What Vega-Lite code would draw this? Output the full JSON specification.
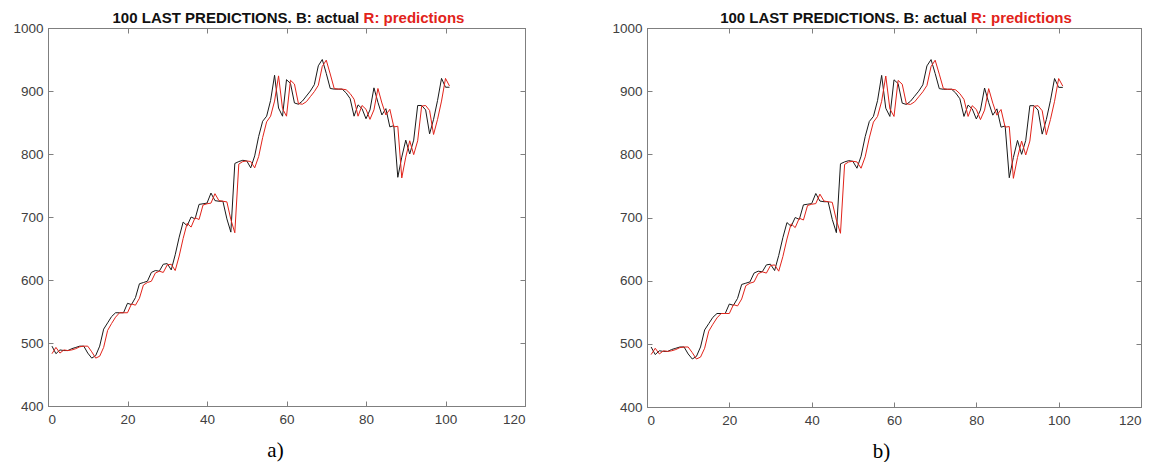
{
  "$schema": "https://vega.github.io/schema/vega-lite/v6.json",
  "padding": {"left": 12, "top": 10, "right": 0, "bottom": 0},
  "background": "white",
  "config": {
    "view": {"stroke": "#7f7f7f", "strokeWidth": 1},
    "axis": {
      "grid": false,
      "domainColor": "#7f7f7f",
      "tickColor": "#7f7f7f",
      "labelColor": "#404040",
      "labelFont": "Liberation Sans",
      "labelFontSize": 13.5,
      "tickSize": -5,
      "format": "d"
    },
    "axisX": {"labelPadding": 11},
    "axisY": {"labelPadding": 10}
  },
  "datasets": {
    "pred": [
      {"x":1,"actual":495,"predicted":483},{"x":2,"actual":483,"predicted":493},{"x":3,"actual":489,"predicted":484},{"x":4,"actual":488,"predicted":489},{"x":5,"actual":488,"predicted":488},
      {"x":6,"actual":491,"predicted":489},{"x":7,"actual":493,"predicted":491},{"x":8,"actual":495,"predicted":494},{"x":9,"actual":495,"predicted":495},{"x":10,"actual":484,"predicted":495},
      {"x":11,"actual":476,"predicted":486},{"x":12,"actual":480,"predicted":476},{"x":13,"actual":495,"predicted":479},{"x":14,"actual":522,"predicted":493},{"x":15,"actual":532,"predicted":520},
      {"x":16,"actual":542,"predicted":531},{"x":17,"actual":548,"predicted":541},{"x":18,"actual":548,"predicted":548},{"x":19,"actual":548,"predicted":548},{"x":20,"actual":563,"predicted":548},
      {"x":21,"actual":561,"predicted":562},{"x":22,"actual":572,"predicted":560},{"x":23,"actual":594,"predicted":571},{"x":24,"actual":596,"predicted":592},{"x":25,"actual":598,"predicted":596},
      {"x":26,"actual":612,"predicted":598},{"x":27,"actual":615,"predicted":611},{"x":28,"actual":614,"predicted":614},{"x":29,"actual":625,"predicted":612},{"x":30,"actual":626,"predicted":624},
      {"x":31,"actual":616,"predicted":625},{"x":32,"actual":640,"predicted":615},{"x":33,"actual":668,"predicted":638},{"x":34,"actual":692,"predicted":666},{"x":35,"actual":686,"predicted":690},
      {"x":36,"actual":700,"predicted":684},{"x":37,"actual":697,"predicted":699},{"x":38,"actual":720,"predicted":696},{"x":39,"actual":721,"predicted":719},{"x":40,"actual":722,"predicted":721},
      {"x":41,"actual":738,"predicted":722},{"x":42,"actual":726,"predicted":737},{"x":43,"actual":725,"predicted":726},{"x":44,"actual":725,"predicted":725},{"x":45,"actual":697,"predicted":724},
      {"x":46,"actual":676,"predicted":696},{"x":47,"actual":785,"predicted":675},{"x":48,"actual":788,"predicted":784},{"x":49,"actual":790,"predicted":788},{"x":50,"actual":789,"predicted":789},
      {"x":51,"actual":778,"predicted":788},{"x":52,"actual":797,"predicted":778},{"x":53,"actual":828,"predicted":796},{"x":54,"actual":852,"predicted":826},{"x":55,"actual":860,"predicted":851},
      {"x":56,"actual":885,"predicted":860},{"x":57,"actual":925,"predicted":884},{"x":58,"actual":873,"predicted":924},{"x":59,"actual":860,"predicted":872},{"x":60,"actual":918,"predicted":860},
      {"x":61,"actual":912,"predicted":917},{"x":62,"actual":881,"predicted":911},{"x":63,"actual":879,"predicted":880},{"x":64,"actual":884,"predicted":879},{"x":65,"actual":892,"predicted":883},
      {"x":66,"actual":900,"predicted":891},{"x":67,"actual":910,"predicted":899},{"x":68,"actual":940,"predicted":909},{"x":69,"actual":950,"predicted":939},{"x":70,"actual":928,"predicted":949},
      {"x":71,"actual":904,"predicted":927},{"x":72,"actual":903,"predicted":904},{"x":73,"actual":903,"predicted":903},{"x":74,"actual":903,"predicted":903},{"x":75,"actual":897,"predicted":902},
      {"x":76,"actual":888,"predicted":896},{"x":77,"actual":860,"predicted":887},{"x":78,"actual":878,"predicted":860},{"x":79,"actual":872,"predicted":877},{"x":80,"actual":856,"predicted":871},
      {"x":81,"actual":870,"predicted":855},{"x":82,"actual":905,"predicted":870},{"x":83,"actual":882,"predicted":904},{"x":84,"actual":862,"predicted":881},{"x":85,"actual":872,"predicted":862},
      {"x":86,"actual":843,"predicted":871},{"x":87,"actual":845,"predicted":843},{"x":88,"actual":763,"predicted":844},{"x":89,"actual":795,"predicted":762},{"x":90,"actual":822,"predicted":795},
      {"x":91,"actual":800,"predicted":821},{"x":92,"actual":822,"predicted":799},{"x":93,"actual":877,"predicted":821},{"x":94,"actual":877,"predicted":876},{"x":95,"actual":870,"predicted":877},
      {"x":96,"actual":832,"predicted":869},{"x":97,"actual":855,"predicted":831},{"x":98,"actual":885,"predicted":855},{"x":99,"actual":920,"predicted":884},{"x":100,"actual":906,"predicted":920},
      {"x":101,"actual":906,"predicted":908}
    ],
    "titles": [
      {"part": "100 LAST PREDICTIONS.  B: actual", "side": "black"},
      {"part": "R: predictions", "side": "red"}
    ]
  },
  "data": {"name": "pred"},
  "spacing": 85,
  "hconcat": [
    {
      "width": 477,
      "height": 378,
      "resolve": {"axis": {"x": "independent", "y": "independent"}},
      "layer": [
        {
          "mark": {"type": "line", "color": "#1a1a1a", "strokeWidth": 1},
          "encoding": {
            "x": {"field": "x", "type": "quantitative", "scale": {"domain": [0, 120], "nice": false},
                  "axis": {"values": [0,20,40,60,80,100,120], "title": "a)", "titleFont": "Liberation Serif", "titleFontSize": 21, "titleFontWeight": "normal", "titleColor": "#000000", "titleX": 227, "titleY": 50, "titleBaseline": "alphabetic", "titleAlign": "center"}},
            "y": {"field": "actual", "type": "quantitative", "scale": {"domain": [400, 1000], "nice": false},
                  "axis": {"values": [400,500,600,700,800,900,1000], "title": null}}
          }
        },
        {
          "mark": {"type": "line", "color": "#e2231a", "strokeWidth": 1},
          "encoding": {
            "x": {"field": "x", "type": "quantitative", "axis": {"orient": "top", "values": [0,20,40,60,80,100,120], "labels": false, "title": null}},
            "y": {"field": "predicted", "type": "quantitative", "axis": {"orient": "right", "values": [400,500,600,700,800,900,1000], "labels": false, "title": null}}
          }
        },
        {
          "data": {"name": "titles"},
          "transform": [{"filter": "datum.side === 'black'"}],
          "mark": {"type": "text", "align": "right", "baseline": "alphabetic", "dy": -5, "font": "Liberation Sans", "fontSize": 15, "fontWeight": "bold", "color": "#111111"},
          "encoding": {
            "text": {"field": "part"},
            "x": {"datum": 78.3, "type": "quantitative", "axis": null},
            "y": {"datum": 1000, "type": "quantitative", "axis": null}
          }
        },
        {
          "data": {"name": "titles"},
          "transform": [{"filter": "datum.side === 'red'"}],
          "mark": {"type": "text", "align": "left", "baseline": "alphabetic", "dy": -5, "font": "Liberation Sans", "fontSize": 15, "fontWeight": "bold", "color": "#e2231a"},
          "encoding": {
            "text": {"field": "part"},
            "x": {"datum": 79.4, "type": "quantitative", "axis": null},
            "y": {"datum": 1000, "type": "quantitative", "axis": null}
          }
        }
      ]
    },
    {
      "width": 494,
      "height": 379,
      "resolve": {"axis": {"x": "independent", "y": "independent"}},
      "layer": [
        {
          "mark": {"type": "line", "color": "#1a1a1a", "strokeWidth": 1},
          "encoding": {
            "x": {"field": "x", "type": "quantitative", "scale": {"domain": [0, 120], "nice": false},
                  "axis": {"values": [0,20,40,60,80,100,120], "title": "b)", "titleFont": "Liberation Serif", "titleFontSize": 21, "titleFontWeight": "normal", "titleColor": "#000000", "titleX": 234, "titleY": 50, "titleBaseline": "alphabetic", "titleAlign": "center"}},
            "y": {"field": "actual", "type": "quantitative", "scale": {"domain": [400, 1000], "nice": false},
                  "axis": {"values": [400,500,600,700,800,900,1000], "title": null}}
          }
        },
        {
          "mark": {"type": "line", "color": "#e2231a", "strokeWidth": 1},
          "encoding": {
            "x": {"field": "x", "type": "quantitative", "axis": {"orient": "top", "values": [0,20,40,60,80,100,120], "labels": false, "title": null}},
            "y": {"field": "predicted", "type": "quantitative", "axis": {"orient": "right", "values": [400,500,600,700,800,900,1000], "labels": false, "title": null}}
          }
        },
        {
          "data": {"name": "titles"},
          "transform": [{"filter": "datum.side === 'black'"}],
          "mark": {"type": "text", "align": "right", "baseline": "alphabetic", "dy": -5, "font": "Liberation Sans", "fontSize": 15, "fontWeight": "bold", "color": "#111111"},
          "encoding": {
            "text": {"field": "part"},
            "x": {"datum": 77.7, "type": "quantitative", "axis": null},
            "y": {"datum": 1000, "type": "quantitative", "axis": null}
          }
        },
        {
          "data": {"name": "titles"},
          "transform": [{"filter": "datum.side === 'red'"}],
          "mark": {"type": "text", "align": "left", "baseline": "alphabetic", "dy": -5, "font": "Liberation Sans", "fontSize": 15, "fontWeight": "bold", "color": "#e2231a"},
          "encoding": {
            "text": {"field": "part"},
            "x": {"datum": 78.7, "type": "quantitative", "axis": null},
            "y": {"datum": 1000, "type": "quantitative", "axis": null}
          }
        }
      ]
    }
  ]
}
